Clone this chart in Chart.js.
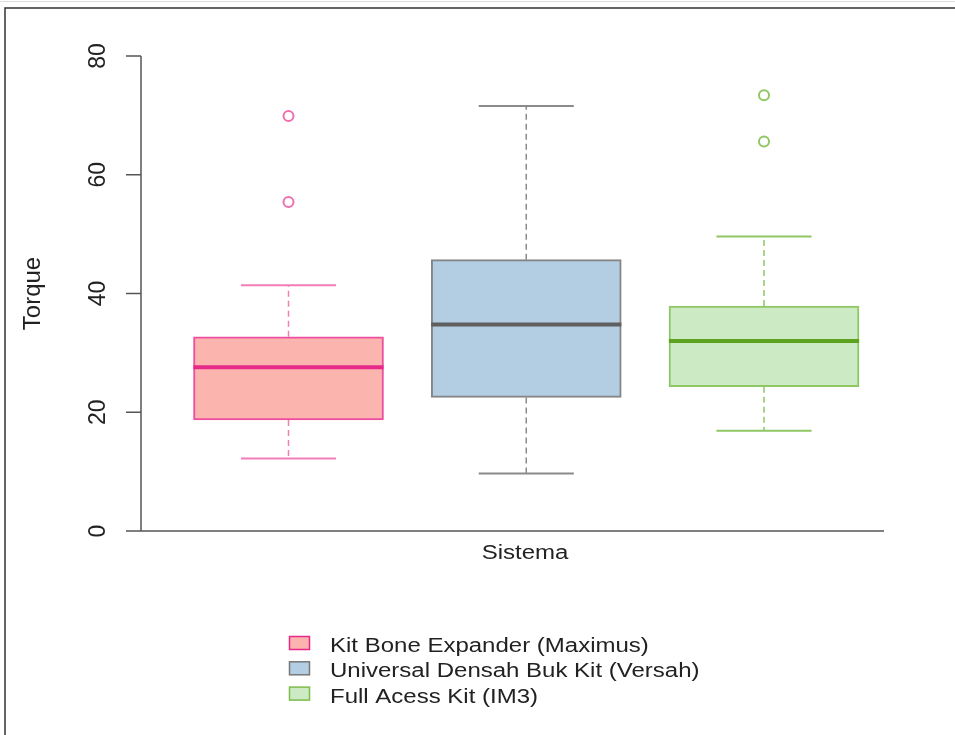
<!DOCTYPE html>
<html>
<head>
<meta charset="utf-8">
<script src="https://cdn.jsdelivr.net/npm/chart.js@4"></script>
<style>
  html, body { margin: 0; padding: 0; background: #fff; }
  #wrap { width: 955px; height: 735px; }
</style>
</head>
<body>
<div id="wrap"><canvas id="c" width="955" height="735"></canvas></div>
<script>
// ---- data ----
const categories = ['Kit Bone Expander (Maximus)', 'Universal Densah Buk Kit (Versah)', 'Full Acess Kit (IM3)'];
const positions = [1, 2, 3];
const q1Values = [18.7, 22.5, 24.3];
const medianValues = [27.6, 34.8, 32.0];
const q3Values = [32.7, 45.7, 37.9];
const whiskerLow = [12.2, 9.7, 16.9];
const whiskerHigh = [41.4, 71.6, 49.6];
const outlierValues = [[55.4, 69.9], [], [65.6, 73.4]];
const yTickLabels = [0, 20, 40, 60, 80];
const yTitle = 'Torque';
const xTitle = 'Sistema';

// ---- styles ----
const fillColors = ['#FBB4AE', '#B3CDE3', '#CCEBC5'];
const boxBorderColors = ['#EC4FA0', '#858585', '#8FC765'];
const medianColors = ['#E7298A', '#5F5F5F', '#5DA21E'];
const whiskerColors = ['#F27DB7', '#8A8A8A', '#8FC765'];
const outlierColors = ['#EF6FAE', '#8A8A8A', '#8FC765'];
const legendBorderColors = ['#E7298A', '#777777', '#7DBB4A'];
const TEXT = '#222222';
const AXIS = '#555555';
const SX = 1.2; // horizontal text stretch
const HFONT = '20px "Liberation Sans", Arial, sans-serif';

const boxW = 0.8, capW = 0.4;

const datasets = [];
datasets.push({
  type: 'bar',
  data: positions.map((p, i) => ({ x: p, y: [q1Values[i], q3Values[i]] })),
  backgroundColor: fillColors,
  borderColor: boxBorderColors,
  borderWidth: 2,
  borderSkipped: false,
  barThickness: 190,
  order: 3
});
positions.forEach((p, i) => {
  const lineBase = { type: 'line', pointRadius: 0, fill: false, borderColor: whiskerColors[i], tension: 0 };
  datasets.push(Object.assign({}, lineBase, { data: [{ x: p, y: q3Values[i] }, { x: p, y: whiskerHigh[i] }], borderWidth: 1.5, borderDash: [6, 4], order: 2 }));
  datasets.push(Object.assign({}, lineBase, { data: [{ x: p, y: q1Values[i] }, { x: p, y: whiskerLow[i] }], borderWidth: 1.5, borderDash: [6, 4], order: 2 }));
  datasets.push(Object.assign({}, lineBase, { data: [{ x: p - capW / 2, y: whiskerHigh[i] }, { x: p + capW / 2, y: whiskerHigh[i] }], borderWidth: 2, order: 2 }));
  datasets.push(Object.assign({}, lineBase, { data: [{ x: p - capW / 2, y: whiskerLow[i] }, { x: p + capW / 2, y: whiskerLow[i] }], borderWidth: 2, order: 2 }));
  datasets.push(Object.assign({}, lineBase, { data: [{ x: p - boxW / 2, y: medianValues[i] }, { x: p + boxW / 2, y: medianValues[i] }], borderColor: medianColors[i], borderWidth: 4, order: 1 }));
});
const outPts = [], outCols = [];
outlierValues.forEach((arr, i) => arr.forEach(v => { outPts.push({ x: positions[i], y: v }); outCols.push(outlierColors[i]); }));
datasets.push({
  type: 'scatter',
  data: outPts,
  pointRadius: 5,
  pointBorderWidth: 2,
  pointBackgroundColor: '#ffffff',
  pointBorderColor: outCols,
  order: 0
});

function stretchedText(ctx, text, x, y, align) {
  ctx.save();
  ctx.translate(x, y);
  ctx.scale(SX, 1);
  ctx.textAlign = align;
  ctx.fillText(text, 0, 0);
  ctx.restore();
}

const decor = {
  id: 'decor',
  beforeDraw(chart) {
    const ctx = chart.ctx;
    ctx.save();
    ctx.fillStyle = '#fff';
    ctx.fillRect(0, 0, chart.width, chart.height);
    ctx.strokeStyle = '#dddddd';
    ctx.lineWidth = 1;
    ctx.beginPath(); ctx.moveTo(0, 1.5); ctx.lineTo(chart.width, 1.5); ctx.stroke();
    ctx.strokeStyle = '#333333';
    ctx.lineWidth = 1.5;
    ctx.beginPath();
    ctx.moveTo(5, chart.height); ctx.lineTo(5, 8); ctx.lineTo(chart.width, 8);
    ctx.stroke();
    ctx.restore();
  },
  afterDraw(chart) {
    const ctx = chart.ctx;
    const ys = chart.scales.y;
    const area = chart.chartArea;
    ctx.save();
    ctx.strokeStyle = AXIS;
    ctx.lineWidth = 1.5;
    const y0 = ys.getPixelForValue(yTickLabels[0]);
    const yN = ys.getPixelForValue(yTickLabels[yTickLabels.length - 1]);
    ctx.beginPath(); ctx.moveTo(area.left, y0); ctx.lineTo(area.left, yN); ctx.stroke();
    ctx.beginPath(); ctx.moveTo(area.left, y0); ctx.lineTo(area.right, y0); ctx.stroke();
    ctx.fillStyle = TEXT;
    ctx.font = '23px "Liberation Sans", Arial, sans-serif';
    yTickLabels.forEach(v => {
      const py = ys.getPixelForValue(v);
      ctx.beginPath(); ctx.moveTo(area.left - 15, py); ctx.lineTo(area.left, py); ctx.stroke();
      ctx.save();
      ctx.translate(105, py);
      ctx.rotate(-Math.PI / 2);
      ctx.textAlign = 'center';
      ctx.textBaseline = 'alphabetic';
      ctx.fillText(String(v), 0, 0);
      ctx.restore();
    });
    ctx.font = '24px "Liberation Sans", Arial, sans-serif';
    ctx.save();
    ctx.translate(40, (y0 + yN) / 2);
    ctx.rotate(-Math.PI / 2);
    ctx.textAlign = 'center';
    ctx.textBaseline = 'alphabetic';
    ctx.fillText(yTitle, 0, 0);
    ctx.restore();
    ctx.font = HFONT;
    ctx.textBaseline = 'alphabetic';
    stretchedText(ctx, xTitle, 525, 559, 'center');
    categories.forEach((c, i) => {
      const base = 652 + i * 25.3;
      ctx.fillStyle = fillColors[i];
      ctx.fillRect(289.5, base - 15.5, 20, 13);
      ctx.strokeStyle = legendBorderColors[i];
      ctx.lineWidth = 1.5;
      ctx.strokeRect(289.5, base - 15.5, 20, 13);
      ctx.fillStyle = TEXT;
      stretchedText(ctx, c, 330, base, 'left');
    });
    ctx.restore();
  }
};

new Chart(document.getElementById('c'), {
  type: 'bar',
  data: { datasets },
  options: {
    responsive: false,
    animation: false,
    layout: { padding: { left: 141, right: 71, top: 56, bottom: 204 } },
    plugins: { legend: { display: false }, tooltip: { enabled: false } },
    scales: {
      x: { type: 'linear', display: false, min: 0.3796, max: 3.5047, offset: false },
      y: { type: 'linear', display: false, min: 0, max: 80 }
    }
  },
  plugins: [decor]
});
</script>
</body>
</html>
